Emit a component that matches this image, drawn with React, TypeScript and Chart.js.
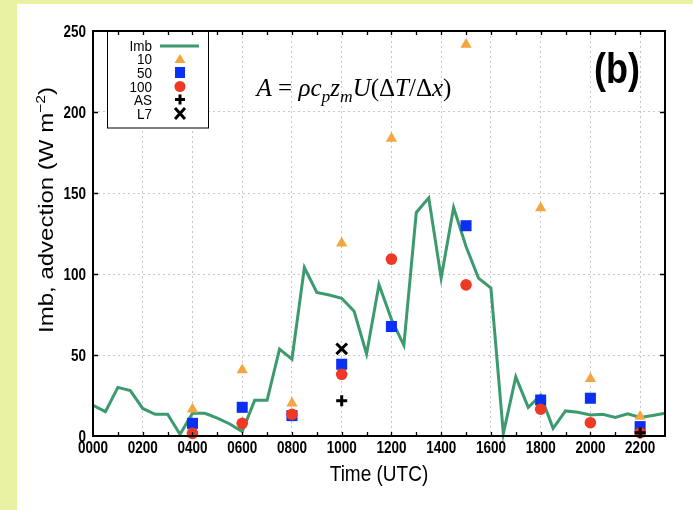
import React, { useEffect, useRef } from 'react';
import { Chart, registerables } from 'chart.js';

Chart.register(...registerables);

// ---------- data ----------
const imbHours = [0, 0.5, 1, 1.5, 2, 2.5, 3, 3.5, 4, 4.5, 5, 5.5, 6, 6.5, 7, 7.5, 8, 8.5, 9, 9.5, 10, 10.5, 11, 11.5, 12, 12.5, 13, 13.5, 14, 14.5, 15, 15.5, 16, 16.5, 17, 17.5, 18, 18.5, 19, 19.5, 20, 20.5, 21, 21.5, 22, 22.5, 23];
const imbValues = [19, 15, 30, 28, 17, 13.4, 13.4, 1, 14, 14, 11, 7.4, 2.7, 22, 22, 53.6, 47.4, 104, 88.6, 87, 85, 77, 50.6, 93.5, 72, 56, 138, 147, 97.5, 141, 117, 97.5, 91.3, 1.5, 36.5, 17.7, 25, 4.7, 15.5, 14.6, 13, 13.4, 11.5, 13.7, 11.5, 12.6, 14];

const markerHours = [4, 6, 8, 10, 12, 15, 18, 20, 22];
const adv10 = [16.5, 40.8, 20.2, 119, 183.6, 241.7, 140.7, 35.4, 12];
const adv50 = [7.8, 17.7, 12.6, 44.3, 67.6, 129.8, 22.2, 23.3, 5.8];
const adv100 = [1.6, 7.8, 13.4, 38.1, 109.2, 93.3, 16.5, 8.2, 2];
const asHours = [10, 22];
const asValues = [21.8, 2];
const l7Hours = [10];
const l7Values = [53.8];

const xTickHours = [0, 2, 4, 6, 8, 10, 12, 14, 16, 18, 20, 22];
const xMinorHours = [1, 3, 5, 7, 9, 11, 13, 15, 17, 19, 21];
const yTickValues = [0, 50, 100, 150, 200, 250];
const legendLabels = ['Imb', '10', '50', '100', 'AS', 'L7'];

const GREEN = '#3b9a6e';
const ORANGE = '#f3a540';
const BLUE = '#0a2ff5';
const RED = '#ee3a24';
const SANS = '"Liberation Sans", Arial, sans-serif';
const SERIF = '"Liberation Serif", "Times New Roman", serif';

const fmtHour = (h: number) => String(Math.round(h * 100)).padStart(4, '0');

function txt(ctx: CanvasRenderingContext2D, s: string, x: number, y: number, font: string, align: CanvasTextAlign, sy = 1.2) {
  ctx.save();
  ctx.translate(x, y);
  ctx.scale(1, sy);
  ctx.font = font;
  ctx.textAlign = align;
  ctx.textBaseline = 'alphabetic';
  ctx.fillStyle = '#000';
  ctx.fillText(s, 0, 0);
  ctx.restore();
}

function drawSymbol(ctx: CanvasRenderingContext2D, kind: string, x: number, y: number) {
  ctx.save();
  if (kind === 'line') {
    ctx.strokeStyle = GREEN; ctx.lineWidth = 3;
    ctx.beginPath(); ctx.moveTo(x - 20, y); ctx.lineTo(x + 19, y); ctx.stroke();
  } else if (kind === 'tri') {
    ctx.fillStyle = ORANGE;
    ctx.beginPath(); ctx.moveTo(x, y - 5); ctx.lineTo(x + 5.5, y + 4); ctx.lineTo(x - 5.5, y + 4); ctx.closePath(); ctx.fill();
  } else if (kind === 'sq') {
    ctx.fillStyle = BLUE; ctx.fillRect(x - 5, y - 5.5, 10, 11);
  } else if (kind === 'circ') {
    ctx.fillStyle = RED; ctx.beginPath(); ctx.arc(x, y, 5.5, 0, Math.PI * 2); ctx.fill();
  } else if (kind === 'plus') {
    ctx.strokeStyle = '#000'; ctx.lineWidth = 3;
    ctx.beginPath(); ctx.moveTo(x - 5, y); ctx.lineTo(x + 5, y); ctx.moveTo(x, y - 5); ctx.lineTo(x, y + 5); ctx.stroke();
  } else if (kind === 'x') {
    ctx.strokeStyle = '#000'; ctx.lineWidth = 3;
    ctx.beginPath(); ctx.moveTo(x - 5, y - 5.5); ctx.lineTo(x + 5, y + 5.5); ctx.moveTo(x + 5, y - 5.5); ctx.lineTo(x - 5, y + 5.5); ctx.stroke();
  }
  ctx.restore();
}

const deco = {
  id: 'deco',
  afterDraw(chart: any) {
    const ctx: CanvasRenderingContext2D = chart.ctx;
    const { left, right, top, bottom } = chart.chartArea;
    const xs = chart.scales.x;
    const ys = chart.scales.y;
    ctx.save();

    // legend box
    const lbL = 107, lbR = 208, lbT = top, lbB = 128;
    ctx.fillStyle = '#fff';
    ctx.fillRect(lbL, lbT, lbR - lbL, lbB - lbT);
    ctx.strokeStyle = '#000'; ctx.lineWidth = 1;
    ctx.strokeRect(lbL + 0.5, lbT, lbR - lbL, lbB - lbT);
    const kinds = ['line', 'tri', 'sq', 'circ', 'plus', 'x'];
    const rowY = [46, 59, 72.5, 86.5, 99.5, 113.5];
    legendLabels.forEach((lab, i) => {
      txt(ctx, lab, 152, rowY[i] + 5, '13.5px ' + SANS, 'right', 1.1);
      drawSymbol(ctx, kinds[i], 180, rowY[i]);
    });

    // frame
    ctx.strokeStyle = '#000'; ctx.lineWidth = 2;
    ctx.strokeRect(left, top, right - left, bottom - top);

    // inward ticks
    ctx.lineWidth = 1.3;
    ctx.beginPath();
    [...xTickHours, ...xMinorHours].forEach((h) => {
      if (h <= 0) return;
      const px = Math.round(xs.getPixelForValue(h)) + 0.5;
      ctx.moveTo(px, bottom); ctx.lineTo(px, bottom - 4);
      ctx.moveTo(px, top); ctx.lineTo(px, top + 4);
    });
    yTickValues.forEach((v) => {
      if (v <= 0 || v >= 250) return;
      const py = Math.round(ys.getPixelForValue(v)) + 0.5;
      ctx.moveTo(left, py); ctx.lineTo(left + 5, py);
      ctx.moveTo(right, py); ctx.lineTo(right - 5, py);
    });
    ctx.stroke();

    // tick labels
    const tickFont = 'bold 13.5px ' + SANS;
    xTickHours.forEach((h) => {
      txt(ctx, fmtHour(h), xs.getPixelForValue(h), bottom + 16.5, tickFont, 'center');
    });
    yTickValues.forEach((v) => {
      txt(ctx, String(v), left - 7, ys.getPixelForValue(v) + 5.8, tickFont, 'right');
    });

    // axis titles
    txt(ctx, 'Time (UTC)', (left + right) / 2, 481, '19px ' + SANS, 'center');

    // y title, rotated, with superscript
    ctx.save();
    ctx.translate(53, 210);
    ctx.scale(1, 1.2);
    ctx.rotate(-Math.PI / 2);
    ctx.fillStyle = '#000';
    ctx.textBaseline = 'alphabetic';
    ctx.textAlign = 'left';
    const mainF = '20px ' + SANS;
    const supF = '13px ' + SANS;
    const parts = [
      { s: 'Imb, advection (W m', f: mainF, dy: 0 },
      { s: '\u22122', f: supF, dy: -8 },
      { s: ')', f: mainF, dy: 0 },
    ];
    let total = 0;
    parts.forEach((p) => { ctx.font = p.f; total += ctx.measureText(p.s).width; });
    let cx = -total / 2;
    parts.forEach((p) => { ctx.font = p.f; ctx.fillText(p.s, cx, p.dy); cx += ctx.measureText(p.s).width; });
    ctx.restore();

    // formula
    ctx.save();
    ctx.fillStyle = '#000';
    ctx.textBaseline = 'alphabetic';
    ctx.textAlign = 'left';
    const fs = 25;
    const segs = [
      { s: 'A', it: true, sub: false },
      { s: ' = ', it: false, sub: false },
      { s: '\u03C1', it: true, sub: false },
      { s: 'c', it: true, sub: false },
      { s: 'p', it: true, sub: true },
      { s: 'z', it: true, sub: false },
      { s: 'm', it: true, sub: true },
      { s: 'U', it: true, sub: false },
      { s: '(', it: false, sub: false },
      { s: '\u0394', it: false, sub: false },
      { s: 'T', it: true, sub: false },
      { s: '/', it: false, sub: false },
      { s: '\u0394', it: false, sub: false },
      { s: 'x', it: true, sub: false },
      { s: ')', it: false, sub: false },
    ];
    const fontOf = (g: any) => (g.it ? 'italic ' : '') + (g.sub ? fs * 0.7 : fs) + 'px ' + SERIF;
    let fw = 0;
    segs.forEach((g) => { ctx.font = fontOf(g); fw += ctx.measureText(g.s).width; });
    let fx = 354 - fw / 2;
    segs.forEach((g) => {
      ctx.font = fontOf(g);
      ctx.fillText(g.s, fx, 96 + (g.sub ? 5.5 : 0));
      fx += ctx.measureText(g.s).width;
    });
    ctx.restore();

    // panel label
    txt(ctx, '(b)', 617, 82.5, 'bold 36px ' + SANS, 'center');

    ctx.restore();
  },
};

export default function App() {
  const ref = useRef<HTMLCanvasElement | null>(null);

  useEffect(() => {
    document.body.style.margin = '0';
    const canvas = ref.current;
    if (!canvas) return;
    const pts = (xs: number[], ys: number[]) => xs.map((x, i) => ({ x, y: ys[i] }));
    const chart = new Chart(canvas, {
      type: 'scatter',
      data: {
        datasets: [
          { label: 'Imb', data: pts(imbHours, imbValues), showLine: true, borderColor: GREEN, backgroundColor: GREEN, borderWidth: 3, pointRadius: 0, tension: 0, order: 6, clip: false } as any,
          { label: '10', data: pts(markerHours, adv10), pointStyle: 'triangle', pointRadius: 6.5, backgroundColor: ORANGE, borderColor: ORANGE, borderWidth: 0, order: 5, clip: false } as any,
          { label: '50', data: pts(markerHours, adv50), pointStyle: 'rect', pointRadius: 7.8, backgroundColor: BLUE, borderColor: BLUE, borderWidth: 0, order: 4, clip: false } as any,
          { label: '100', data: pts(markerHours, adv100), pointStyle: 'circle', pointRadius: 5.8, backgroundColor: RED, borderColor: RED, borderWidth: 0, order: 3, clip: false } as any,
          { label: 'AS', data: pts(asHours, asValues), pointStyle: 'cross', pointRadius: 5.5, backgroundColor: '#000', borderColor: '#000', borderWidth: 3, order: 2, clip: false } as any,
          { label: 'L7', data: pts(l7Hours, l7Values), pointStyle: 'crossRot', pointRadius: 7.5, backgroundColor: '#000', borderColor: '#000', borderWidth: 3, order: 1, clip: false } as any,
        ],
      },
      options: {
        animation: false,
        responsive: false,
        devicePixelRatio: 1,
        events: [],
        layout: { padding: { left: 0, top: 31, right: 28, bottom: 0 } },
        plugins: { legend: { display: false }, tooltip: { enabled: false } },
        scales: {
          x: {
            type: 'linear',
            min: 0,
            max: 23,
            afterBuildTicks: (s: any) => { s.ticks = xTickHours.map((v) => ({ value: v })); },
            afterFit: (s: any) => { s.height = 74; },
            ticks: { display: false },
            grid: { color: '#c8c8c8', lineWidth: 1, drawTicks: false },
            border: { display: false, dash: [2, 3] },
          },
          y: {
            type: 'linear',
            min: 0,
            max: 250,
            afterBuildTicks: (s: any) => { s.ticks = yTickValues.map((v) => ({ value: v })); },
            afterFit: (s: any) => { s.width = 93; },
            ticks: { display: false },
            grid: { color: '#c8c8c8', lineWidth: 1, drawTicks: false },
            border: { display: false, dash: [2, 3] },
          },
        },
      } as any,
      plugins: [deco],
    });
    return () => chart.destroy();
  }, []);

  return (
    <div style={{ position: 'absolute', left: 0, top: 0, width: 693, height: 510, background: '#e8f2a2' }}>
      <div style={{ position: 'absolute', left: 17, top: 4, right: 0, bottom: 0, background: '#ffffff' }} />
      <canvas ref={ref} width={693} height={510} style={{ position: 'absolute', left: 0, top: 0, display: 'block' }} />
    </div>
  );
}
